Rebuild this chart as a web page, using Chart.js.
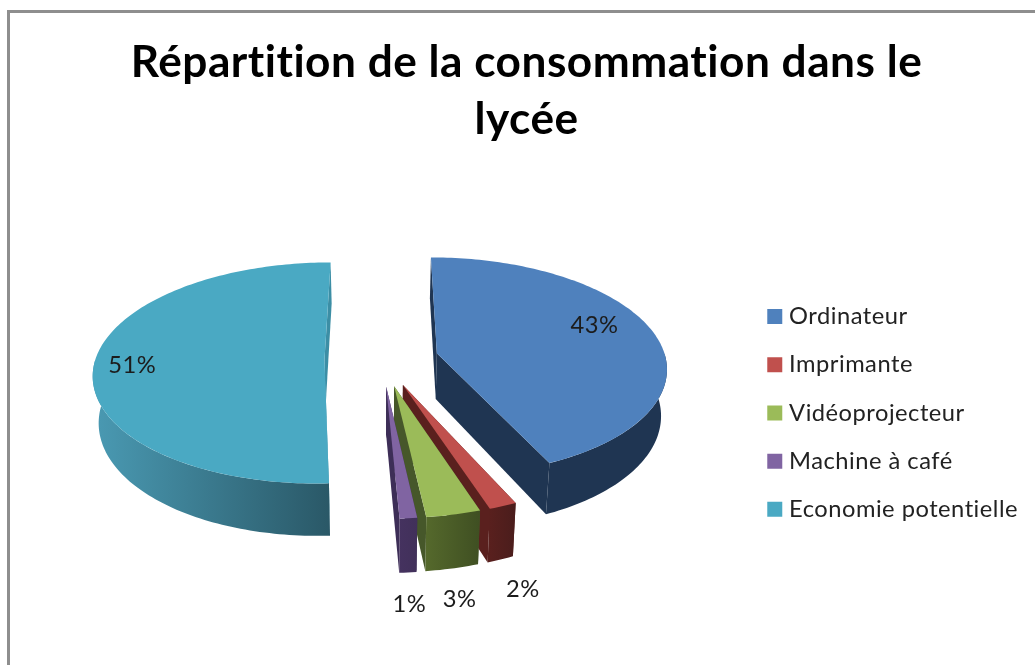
<!DOCTYPE html>
<html lang="fr">
<head>
<meta charset="utf-8">
<title>Répartition de la consommation dans le lycée</title>
<script src="https://cdn.jsdelivr.net/npm/chart.js@4"></script>
<style>
html,body{margin:0;padding:0;background:#fff;overflow:hidden}
#wrap{position:relative;width:1035px;height:665px}
#frame{position:absolute;left:7px;top:10px;width:1100px;height:800px;border-top:3px solid #8e8e8e;border-left:3px solid #8e8e8e;filter:blur(0.4px)}
canvas{position:absolute;left:0;top:0;filter:blur(0.45px)}
</style>
</head>
<body>
<div id="wrap"><div id="frame"></div><canvas id="c" width="1035" height="665"></canvas></div>
<script>
const titleLines = ['Répartition de la consommation dans le', 'lycée'];
const categories = ['Ordinateur', 'Imprimante', 'Vidéoprojecteur', 'Machine à café', 'Economie potentielle'];
const values = [43.2, 1.7, 3.3, 1.05, 50.75];
const topColors = ['#4f81bd', '#c0504d', '#9bbb59', '#8064a2', '#4aa9c3'];
const wallStart = ['#1f3552', '#5a201e', '#55692c', '#45325f', '#4a9ab3'];
const wallEnd = ['#1f3552', '#4a1d1c', '#3f4f22', '#41305a', '#2a5867'];
const faceColors = ['#1f3552', '#5a201e', '#46572a', '#3d2e57', '#3c8ea5'];

// 3D view of the pie (projection of the library's arc geometry)
const VIEW = {x0: 381.5, y0: 359, tilt: 0.475, focal: 1900, depth: 46, nadir: 0.00045};
// label placement: fraction of the radius, then nudge
const labelRadius = [0.75, 1, 1, 1, 0.75];
const labelNudge = [[-5, -11], [20, 83], [6, 85], [1, 86], [-20, 4]];

function project(u, v, h) {
  const s = VIEW.focal / (VIEW.focal - v);
  return [VIEW.x0 + u * s * (1 - h * VIEW.nadir), VIEW.y0 + (v * VIEW.tilt + h) * s];
}
function arcGeom(arc) {
  const mid = (arc.startAngle + arc.endAngle) / 2;
  const off = arc.options.offset || 0;
  const cu = Math.cos(mid) * off, cv = Math.sin(mid) * off;
  return {mid, cu, cv, R: arc.outerRadius,
    rim: (t, h, r) => project(cu + (r === undefined ? arc.outerRadius : r) * Math.cos(t), cv + (r === undefined ? arc.outerRadius : r) * Math.sin(t), h),
    apex: h => project(cu, cv, h)};
}
function poly(ctx, pts, fill) {
  ctx.beginPath();
  pts.forEach((p, i) => i ? ctx.lineTo(p[0], p[1]) : ctx.moveTo(p[0], p[1]));
  ctx.closePath();
  ctx.fillStyle = fill;
  ctx.fill();
}
function samples(a, b) {
  const n = Math.max(2, Math.ceil(Math.abs(b - a) / 0.02));
  return Array.from({length: n + 1}, (_, i) => a + (b - a) * i / n);
}
const pie3d = {
  id: 'pie3d',
  beforeLayout(chart) { chart.ctx.letterSpacing = '0.5px'; },
  beforeDraw(chart) { chart.ctx.letterSpacing = '0.5px'; },
  beforeDatasetDraw(chart, args) {
    const ctx = chart.ctx;
    const arcs = args.meta.data;
    ctx.save();
    arcs.forEach((arc, i) => {
      const g = arcGeom(arc), d = VIEW.depth;
      const a = arc.startAngle, b = arc.endAngle;
      // radial faces
      [a, b].forEach(t => {
        poly(ctx, [g.apex(0), g.rim(t, 0), g.rim(t, d), g.apex(d)], faceColors[i]);
      });
      // rim wall (front part only)
      const lo = Math.max(a, 0), hi = Math.min(b, Math.PI);
      if (hi > lo) {
        const ts = samples(lo, hi);
        const pts = ts.map(t => g.rim(t, 0)).concat(ts.slice().reverse().map(t => g.rim(t, d)));
        const xs = pts.map(p => p[0]);
        const grad = ctx.createLinearGradient(Math.min(...xs), 0, Math.max(...xs), 0);
        grad.addColorStop(0, wallStart[i]);
        grad.addColorStop(1, wallEnd[i]);
        poly(ctx, pts, grad);
      }
      // top face
      const top = [g.apex(0)].concat(samples(a, b).map(t => g.rim(t, 0)));
      poly(ctx, top, arc.options.backgroundColor);
    });
    ctx.restore();
    return false;
  },
  afterDatasetsDraw(chart) {
    const ctx = chart.ctx;
    const arcs = chart.getDatasetMeta(0).data;
    const total = values.reduce((p, c) => p + c, 0);
    ctx.save();
    ctx.font = '23.7px Lato';
    ctx.fillStyle = '#1c1c1c';
    ctx.textAlign = 'center';
    ctx.textBaseline = 'middle';
    arcs.forEach((arc, i) => {
      const g = arcGeom(arc);
      const p = g.rim(g.mid, 0, g.R * labelRadius[i]);
      ctx.fillText(Math.round(values[i] / total * 100) + '%', p[0] + labelNudge[i][0], p[1] + labelNudge[i][1]);
    });
    ctx.restore();
  }
};

new Chart(document.getElementById('c'), {
  type: 'pie',
  data: {
    labels: categories,
    datasets: [{data: values, backgroundColor: topColors, offset: 57, borderWidth: 0}]
  },
  plugins: [pie3d],
  options: {
    responsive: false,
    animation: false,
    radius: 229,
    layout: {padding: {left: 25, right: 7, top: 34, bottom: 0}},
    plugins: {
      title: {
        display: true,
        text: titleLines,
        color: '#000',
        font: {family: 'Lato', size: 44.2, weight: 'bold', lineHeight: 1.3},
        padding: {top: 0, bottom: 12}
      },
      legend: {
        position: 'right',
        fullSize: false,
        labels: {
          color: '#222',
          font: {family: 'Lato', size: 23.7},
          boxWidth: 5,
          boxHeight: 5,
          padding: 24.5,
          generateLabels(chart) {
            return Chart.overrides.doughnut.plugins.legend.labels.generateLabels(chart).map(l => ({...l, strokeStyle: l.fillStyle, lineWidth: 10}));
          }
        }
      },
      tooltip: {enabled: false}
    }
  }
});
</script>
</body>
</html>
